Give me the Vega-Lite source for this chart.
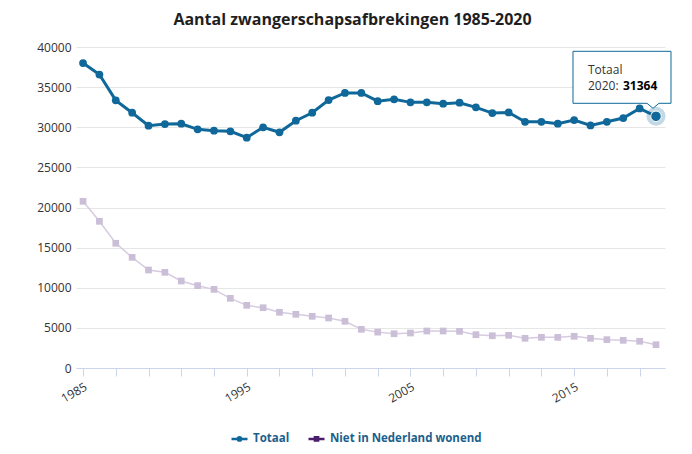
{
  "$schema": "https://vega.github.io/schema/vega-lite/v6.json",
  "autosize": "none",
  "width": 589,
  "height": 321,
  "padding": {"left": 76, "top": 47, "right": 27, "bottom": 86},
  "background": "white",
  "config": {
    "font": "Open Sans",
    "view": {"stroke": null}
  },
  "title": {
    "text": "Aantal zwangerschapsafbrekingen 1985-2020",
    "fontSize": 16,
    "fontWeight": "bold",
    "color": "#1f1f1f",
    "font": "Open Sans",
    "anchor": "middle",
    "dx": -18,
    "offset": 13
  },
  "data": {
    "values": [
      {"year": 1985, "series": "Totaal", "value": 38000},
      {"year": 1986, "series": "Totaal", "value": 36570},
      {"year": 1987, "series": "Totaal", "value": 33350},
      {"year": 1988, "series": "Totaal", "value": 31810},
      {"year": 1989, "series": "Totaal", "value": 30190},
      {"year": 1990, "series": "Totaal", "value": 30400},
      {"year": 1991, "series": "Totaal", "value": 30440},
      {"year": 1992, "series": "Totaal", "value": 29740},
      {"year": 1993, "series": "Totaal", "value": 29570},
      {"year": 1994, "series": "Totaal", "value": 29490},
      {"year": 1995, "series": "Totaal", "value": 28700},
      {"year": 1996, "series": "Totaal", "value": 29990},
      {"year": 1997, "series": "Totaal", "value": 29370},
      {"year": 1998, "series": "Totaal", "value": 30820},
      {"year": 1999, "series": "Totaal", "value": 31810},
      {"year": 2000, "series": "Totaal", "value": 33390},
      {"year": 2001, "series": "Totaal", "value": 34270},
      {"year": 2002, "series": "Totaal", "value": 34270},
      {"year": 2003, "series": "Totaal", "value": 33250},
      {"year": 2004, "series": "Totaal", "value": 33480},
      {"year": 2005, "series": "Totaal", "value": 33100},
      {"year": 2006, "series": "Totaal", "value": 33100},
      {"year": 2007, "series": "Totaal", "value": 32930},
      {"year": 2008, "series": "Totaal", "value": 33060},
      {"year": 2009, "series": "Totaal", "value": 32480},
      {"year": 2010, "series": "Totaal", "value": 31770},
      {"year": 2011, "series": "Totaal", "value": 31850},
      {"year": 2012, "series": "Totaal", "value": 30680},
      {"year": 2013, "series": "Totaal", "value": 30680},
      {"year": 2014, "series": "Totaal", "value": 30440},
      {"year": 2015, "series": "Totaal", "value": 30900},
      {"year": 2016, "series": "Totaal", "value": 30230},
      {"year": 2017, "series": "Totaal", "value": 30680},
      {"year": 2018, "series": "Totaal", "value": 31150},
      {"year": 2019, "series": "Totaal", "value": 32350},
      {"year": 2020, "series": "Totaal", "value": 31364},
      {"year": 1985, "series": "Niet in Nederland wonend", "value": 20770},
      {"year": 1986, "series": "Niet in Nederland wonend", "value": 18280},
      {"year": 1987, "series": "Niet in Nederland wonend", "value": 15540},
      {"year": 1988, "series": "Niet in Nederland wonend", "value": 13790},
      {"year": 1989, "series": "Niet in Nederland wonend", "value": 12210},
      {"year": 1990, "series": "Niet in Nederland wonend", "value": 11920},
      {"year": 1991, "series": "Niet in Nederland wonend", "value": 10840},
      {"year": 1992, "series": "Niet in Nederland wonend", "value": 10260},
      {"year": 1993, "series": "Niet in Nederland wonend", "value": 9800},
      {"year": 1994, "series": "Niet in Nederland wonend", "value": 8680},
      {"year": 1995, "series": "Niet in Nederland wonend", "value": 7810},
      {"year": 1996, "series": "Niet in Nederland wonend", "value": 7510},
      {"year": 1997, "series": "Niet in Nederland wonend", "value": 6940},
      {"year": 1998, "series": "Niet in Nederland wonend", "value": 6690},
      {"year": 1999, "series": "Niet in Nederland wonend", "value": 6440},
      {"year": 2000, "series": "Niet in Nederland wonend", "value": 6230},
      {"year": 2001, "series": "Niet in Nederland wonend", "value": 5820},
      {"year": 2002, "series": "Niet in Nederland wonend", "value": 4820},
      {"year": 2003, "series": "Niet in Nederland wonend", "value": 4470},
      {"year": 2004, "series": "Niet in Nederland wonend", "value": 4270},
      {"year": 2005, "series": "Niet in Nederland wonend", "value": 4360},
      {"year": 2006, "series": "Niet in Nederland wonend", "value": 4610},
      {"year": 2007, "series": "Niet in Nederland wonend", "value": 4610},
      {"year": 2008, "series": "Niet in Nederland wonend", "value": 4570},
      {"year": 2009, "series": "Niet in Nederland wonend", "value": 4150},
      {"year": 2010, "series": "Niet in Nederland wonend", "value": 4020},
      {"year": 2011, "series": "Niet in Nederland wonend", "value": 4070},
      {"year": 2012, "series": "Niet in Nederland wonend", "value": 3700},
      {"year": 2013, "series": "Niet in Nederland wonend", "value": 3820},
      {"year": 2014, "series": "Niet in Nederland wonend", "value": 3820},
      {"year": 2015, "series": "Niet in Nederland wonend", "value": 3950},
      {"year": 2016, "series": "Niet in Nederland wonend", "value": 3700},
      {"year": 2017, "series": "Niet in Nederland wonend", "value": 3530},
      {"year": 2018, "series": "Niet in Nederland wonend", "value": 3450},
      {"year": 2019, "series": "Niet in Nederland wonend", "value": 3330},
      {"year": 2020, "series": "Niet in Nederland wonend", "value": 2900}
    ]
  },
  "encoding": {
    "x": {
      "field": "year",
      "type": "quantitative",
      "scale": {"domain": [1984.57, 2020.55], "nice": false, "zero": false},
      "axis": {
        "title": null,
        "values": [1985, 1987, 1989, 1991, 1993, 1995, 1997, 1999, 2001, 2003, 2005, 2007, 2009, 2011, 2013, 2015, 2017, 2019],
        "format": "d",
        "labelExpr": "(datum.value - 1985) % 10 == 0 ? datum.label : ''",
        "labelAngle": -30,
        "labelAlign": "right",
        "labelBaseline": "top",
        "labelPadding": 5,
        "labelFontSize": 12,
        "labelColor": "#333333",
        "labelFont": "Open Sans",
        "grid": false,
        "domainColor": "#ccd6eb",
        "tickColor": "#ccd6eb",
        "tickSize": 8,
        "labelOverlap": false
      }
    },
    "y": {
      "field": "value",
      "type": "quantitative",
      "scale": {"domain": [0, 40000], "nice": false},
      "axis": {
        "title": null,
        "values": [0, 5000, 10000, 15000, 20000, 25000, 30000, 35000, 40000],
        "format": "d",
        "labelFontSize": 12,
        "labelColor": "#333333",
        "labelFont": "Open Sans",
        "labelPadding": 5,
        "domain": false,
        "ticks": false,
        "gridColor": "#e6e6e6",
        "gridWidth": 1
      }
    }
  },
  "layer": [
    {
      "transform": [{"filter": "datum.series === 'Niet in Nederland wonend'"}],
      "mark": {"type": "line", "color": "#d6cbe0", "strokeWidth": 1.5},
      "encoding": {}
    },
    {
      "transform": [{"filter": "datum.series === 'Totaal'"}],
      "mark": {"type": "line", "color": "#0f6899", "strokeWidth": 3},
      "encoding": {}
    },
    {
      "transform": [{"filter": "datum.series === 'Totaal'"}],
      "mark": {"type": "point", "filled": true, "shape": "circle", "size": 60, "color": "#0f6899", "opacity": 1},
      "encoding": {}
    },
    {
      "transform": [{"filter": "datum.series === 'Niet in Nederland wonend'"}],
      "mark": {"type": "point", "filled": true, "shape": "square", "size": 45, "color": "#cbbfd8", "opacity": 1},
      "encoding": {}
    },
    {
      "transform": [{"filter": "datum.year > 3000"}],
      "mark": {"type": "point", "filled": false, "strokeWidth": 2.5},
      "encoding": {
        "color": {
          "field": "series",
          "type": "nominal",
          "scale": {"domain": ["Totaal", "Niet in Nederland wonend"], "range": ["#0f6899", "#4b1d6c"]},
          "legend": {
            "title": null,
            "orient": "none",
            "direction": "horizontal",
            "legendX": 154,
            "legendY": 382,
            "labelFont": "Open Sans",
            "labelFontSize": 11.5,
            "labelFontWeight": "bold",
            "labelColor": "#1c5f8c",
            "labelOffset": 4,
            "columnPadding": 13,
            "symbolSize": 256,
            "symbolStrokeWidth": 2.5,
            "symbolOpacity": 1
          }
        },
        "shape": {
          "field": "series",
          "type": "nominal",
          "scale": {
            "domain": ["Totaal", "Niet in Nederland wonend"],
            "range": [
              "M-1,0H1M-0.2,0A0.2,0.2,0,1,0,0.2,0A0.2,0.2,0,1,0,-0.2,0Z",
              "M-1,0H1M-0.2,-0.2H0.2V0.2H-0.2Z"
            ]
          },
          "legend": {
            "title": null,
            "orient": "none",
            "direction": "horizontal",
            "legendX": 154,
            "legendY": 382,
            "labelFont": "Open Sans",
            "labelFontSize": 11.5,
            "labelFontWeight": "bold",
            "labelColor": "#1c5f8c",
            "labelOffset": 4,
            "columnPadding": 13,
            "symbolSize": 256,
            "symbolStrokeWidth": 2.5,
            "symbolOpacity": 1
          }
        }
      }
    },
    {
      "transform": [{"filter": "datum.series === 'Totaal' && datum.year === 2020"}],
      "mark": {"type": "point", "filled": true, "shape": "circle", "size": 360, "color": "#0f6899", "opacity": 0.25},
      "encoding": {}
    },
    {
      "transform": [{"filter": "datum.series === 'Totaal' && datum.year === 2020"}],
      "mark": {"type": "point", "filled": true, "shape": "circle", "size": 110, "fill": "#0f6899", "stroke": "#ffffff", "strokeWidth": 1, "opacity": 1},
      "encoding": {}
    },
    {
      "transform": [{"filter": "datum.series === 'Totaal' && datum.year === 2020"}],
      "mark": {
        "type": "point",
        "shape": "M-83,-65H15V-13H3L-3,-8L-9,-13H-83Z",
        "size": 4,
        "filled": true,
        "fill": "#ffffff",
        "stroke": "#0f6899",
        "strokeWidth": 1,
        "opacity": 1
      },
      "encoding": {}
    },
    {
      "transform": [{"filter": "datum.series === 'Totaal' && datum.year === 2020"}],
      "mark": {"type": "text", "align": "left", "baseline": "middle", "dx": -68, "dy": -46, "fontSize": 12, "font": "Open Sans", "color": "#333333"},
      "encoding": {"text": {"field": "series", "type": "nominal"}}
    },
    {
      "transform": [{"filter": "datum.series === 'Totaal' && datum.year === 2020"}],
      "mark": {"type": "text", "align": "left", "baseline": "middle", "dx": -68, "dy": -30, "fontSize": 12, "font": "Open Sans", "color": "#333333", "text": "2020:"},
      "encoding": {}
    },
    {
      "transform": [{"filter": "datum.series === 'Totaal' && datum.year === 2020"}],
      "mark": {"type": "text", "align": "left", "baseline": "middle", "dx": -33, "dy": -30, "fontSize": 12, "font": "Open Sans", "fontWeight": "bold", "color": "#000000"},
      "encoding": {"text": {"field": "value", "type": "quantitative", "format": "d"}}
    }
  ]
}
